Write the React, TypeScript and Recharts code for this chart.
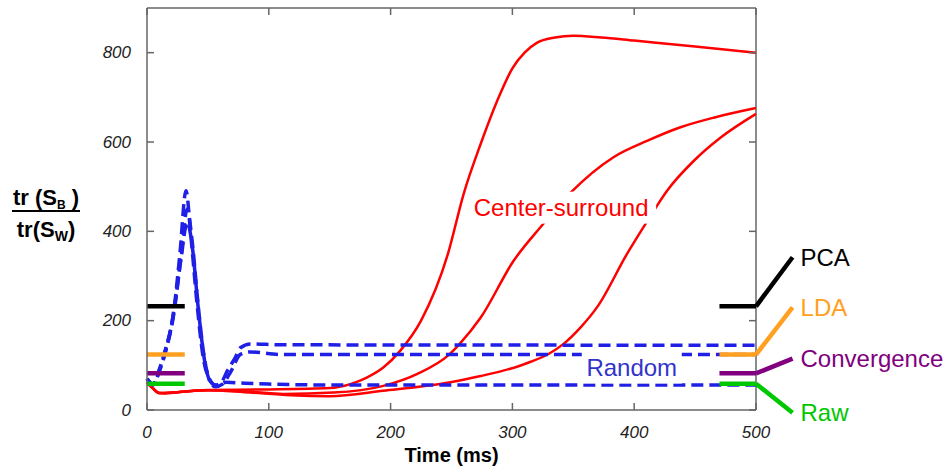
import { LineChart, Line, XAxis, YAxis, ReferenceLine, ReferenceDot } from "recharts";

const timeTicks = [0, 100, 200, 300, 400, 500];
const ratioTicks = [0, 200, 400, 600, 800];

// center-surround runs (red)
const centerFast = [
  { t: 0, v: 62 }, { t: 5, v: 48 }, { t: 10, v: 38 }, { t: 15, v: 37 }, { t: 25, v: 40 },
  { t: 50, v: 45 }, { t: 100, v: 46 }, { t: 150, v: 49 }, { t: 167, v: 58 }, { t: 180, v: 72 },
  { t: 194, v: 95 }, { t: 208, v: 133 }, { t: 225, v: 200 }, { t: 247, v: 349 }, { t: 260, v: 484 },
  { t: 274, v: 596 }, { t: 290, v: 708 }, { t: 300, v: 765 }, { t: 310, v: 800 }, { t: 320, v: 822 },
  { t: 335, v: 834 }, { t: 350, v: 838 }, { t: 373, v: 834 }, { t: 400, v: 827 }, { t: 450, v: 814 },
  { t: 500, v: 800 },
];
const centerMid = [
  { t: 0, v: 62 }, { t: 5, v: 48 }, { t: 10, v: 38 }, { t: 25, v: 40 }, { t: 50, v: 44 },
  { t: 80, v: 42 }, { t: 112, v: 36 }, { t: 153, v: 39 }, { t: 194, v: 54 }, { t: 222, v: 81 },
  { t: 248, v: 124 }, { t: 256, v: 146 }, { t: 274, v: 207 }, { t: 301, v: 334 }, { t: 323, v: 409 },
  { t: 348, v: 487 }, { t: 383, v: 566 }, { t: 411, v: 603 }, { t: 438, v: 633 }, { t: 466, v: 655 },
  { t: 500, v: 676 },
];
const centerSlow = [
  { t: 0, v: 62 }, { t: 5, v: 48 }, { t: 10, v: 38 }, { t: 25, v: 40 }, { t: 50, v: 44 },
  { t: 80, v: 40 }, { t: 118, v: 33 }, { t: 150, v: 31 }, { t: 194, v: 43 }, { t: 249, v: 62 },
  { t: 274, v: 76 }, { t: 291, v: 87 }, { t: 305, v: 98 }, { t: 315, v: 108 }, { t: 330, v: 126 },
  { t: 342, v: 148 }, { t: 356, v: 185 }, { t: 370, v: 232 }, { t: 394, v: 349 }, { t: 411, v: 424 },
  { t: 427, v: 491 }, { t: 449, v: 558 }, { t: 471, v: 610 }, { t: 500, v: 663 },
];

// random runs (blue, dashed)
const randomHigh = [
  { t: 0, v: 70 }, { t: 5, v: 58 }, { t: 10, v: 90 }, { t: 14, v: 125 }, { t: 22, v: 222 },
  { t: 27, v: 349 }, { t: 32, v: 491 }, { t: 36, v: 390 }, { t: 41, v: 240 }, { t: 46, v: 120 },
  { t: 52, v: 66 }, { t: 56, v: 56 }, { t: 61, v: 62 }, { t: 66, v: 88 }, { t: 72, v: 115 },
  { t: 77, v: 140 }, { t: 85, v: 148 }, { t: 110, v: 146 }, { t: 500, v: 145 },
];
const randomMid = [
  { t: 0, v: 70 }, { t: 5, v: 56 }, { t: 10, v: 85 }, { t: 15, v: 128 }, { t: 22, v: 215 },
  { t: 28, v: 340 }, { t: 33, v: 420 }, { t: 37, v: 370 }, { t: 42, v: 230 }, { t: 47, v: 115 },
  { t: 52, v: 62 }, { t: 56, v: 52 }, { t: 62, v: 58 }, { t: 68, v: 82 }, { t: 77, v: 125 },
  { t: 85, v: 130 }, { t: 110, v: 124 }, { t: 500, v: 124 },
];
const randomLow = [
  { t: 0, v: 70 }, { t: 5, v: 57 }, { t: 10, v: 88 }, { t: 15, v: 130 }, { t: 22, v: 220 },
  { t: 28, v: 345 }, { t: 33, v: 450 }, { t: 37, v: 380 }, { t: 42, v: 235 }, { t: 47, v: 118 },
  { t: 52, v: 64 }, { t: 57, v: 55 }, { t: 65, v: 62 }, { t: 80, v: 60 }, { t: 100, v: 58 },
  { t: 150, v: 56 }, { t: 500, v: 56 },
];

// reference levels for the other methods
const methods = ["PCA", "LDA", "Convergence", "Raw"];
const methodLevels = [232, 124, 82, 59];
const methodTagLevels = [342, 230, 115, -6];
const methodColors = ["#000000", "#ffa020", "#800080", "#00c800"];

const RED = "#ff0000";
const BLUE = "#1f1fe6";
const AXIS = "#666";

const PLOT_TOP = 8;
const PLOT_BOTTOM = 410;
const PLOT_LEFT = 147;
const PLOT_RIGHT = 756;

const TimeTick = (p: any) => (
  <g>
    <line x1={p.x} x2={p.x} y1={PLOT_BOTTOM} y2={PLOT_BOTTOM - 7} stroke={AXIS} strokeWidth={1.5} />
    <line x1={p.x} x2={p.x} y1={PLOT_TOP} y2={PLOT_TOP + 7} stroke={AXIS} strokeWidth={1.5} />
    <text x={p.x} y={PLOT_BOTTOM + 22} textAnchor="middle" dominantBaseline="central" fontSize={17} fontStyle="italic" fill="#222">
      {p.payload.value}
    </text>
  </g>
);

const RatioTick = (p: any) => (
  <g>
    <line x1={PLOT_LEFT} x2={PLOT_LEFT + 7} y1={p.y} y2={p.y} stroke={AXIS} strokeWidth={1.5} />
    <line x1={PLOT_RIGHT} x2={PLOT_RIGHT - 7} y1={p.y} y2={p.y} stroke={AXIS} strokeWidth={1.5} />
    <text x={PLOT_LEFT - 16} y={p.y} textAnchor="end" dominantBaseline="central" fontSize={17} fontStyle="italic" fill="#222">
      {p.payload.value}
    </text>
  </g>
);

const tag = (text: string, color: string, w: number) => (p: any) => (
  <g>
    <rect x={p.cx - w / 2} y={p.cy - 16} width={w} height={32} fill="#fff" />
    <text x={p.cx} y={p.cy} textAnchor="middle" dominantBaseline="central" fontSize={24} fill={color}>
      {text}
    </text>
  </g>
);

const sideTag = (text: string, color: string) => (p: any) => (
  <text x={p.cx + 8} y={p.cy} dominantBaseline="central" fontSize={24} fill={color}>
    {text}
  </text>
);

const RatioLabel = (props: any) => {
  const vb = props.viewBox;
  const cx = vb.x + 46;
  const cy = 211;
  return (
    <g fontWeight="bold" fill="#000">
      <text x={cx} y={cy - 6} textAnchor="middle" fontSize={22}>
        <tspan>tr (S</tspan>
        <tspan fontSize={12} dy={4}>B</tspan>
        <tspan dy={-4}> )</tspan>
      </text>
      <line x1={12} x2={80} y1={cy} y2={cy} stroke="#000" strokeWidth={2} />
      <text x={cx} y={cy + 26} textAnchor="middle" fontSize={22}>
        <tspan>tr(S</tspan>
        <tspan fontSize={14} dy={4}>W</tspan>
        <tspan dy={-4}>)</tspan>
      </text>
    </g>
  );
};

const TimeLabel = (props: any) => {
  const vb = props.viewBox;
  return (
    <text x={vb.x + vb.width / 2} y={462} textAnchor="middle" fontSize={20} fontWeight="bold" fill="#000">
      Time (ms)
    </text>
  );
};

export default function App() {
  return (
    <div style={{ position: "absolute", left: 0, top: 0, fontFamily: "'Liberation Sans', Arial, sans-serif" }}>
      <LineChart width={952} height={470} margin={{ top: PLOT_TOP, right: 952 - PLOT_RIGHT, bottom: 0, left: 0 }}>
        <XAxis
          dataKey="t"
          type="number"
          domain={[0, 500]}
          ticks={timeTicks}
          interval={0}
          tick={<TimeTick />}
          tickLine={false}
          height={470 - PLOT_BOTTOM}
          stroke={AXIS}
          strokeWidth={1.5}
          label={<TimeLabel />}
        />
        <YAxis
          type="number"
          domain={[0, 900]}
          ticks={ratioTicks}
          interval={0}
          tick={<RatioTick />}
          tickLine={false}
          width={PLOT_LEFT}
          stroke={AXIS}
          strokeWidth={1.5}
          label={<RatioLabel />}
        />
        <ReferenceLine x={500} stroke={AXIS} strokeWidth={1.5} />
        <ReferenceLine y={900} stroke={AXIS} strokeWidth={1.5} />

        {[centerFast, centerMid, centerSlow].map((d, i) => (
          <Line key={"c" + i} data={d} dataKey="v" type="monotone" stroke={RED} strokeWidth={2.5} dot={false} isAnimationActive={false} />
        ))}
        {[randomHigh, randomMid, randomLow].map((d, i) => (
          <Line key={"r" + i} data={d} dataKey="v" type="monotone" stroke={BLUE} strokeWidth={3.5} strokeDasharray="12 6" dot={false} isAnimationActive={false} />
        ))}

        {methods.map((m, i) => (
          <Line key={"l" + m} data={[{ t: 0, v: methodLevels[i] }, { t: 31, v: methodLevels[i] }]} dataKey="v" type="linear" stroke={methodColors[i]} strokeWidth={4.5} dot={false} isAnimationActive={false} />
        ))}
        {methods.map((m, i) => (
          <Line key={"rr" + m} data={[{ t: 470, v: methodLevels[i] }, { t: 500, v: methodLevels[i] }]} dataKey="v" type="linear" stroke={methodColors[i]} strokeWidth={4.5} dot={false} isAnimationActive={false} />
        ))}
        {methods.map((m, i) => (
          <ReferenceLine
            key={"d" + m}
            segment={[{ x: 500, y: methodLevels[i] }, { x: 530, y: methodTagLevels[i] }]}
            stroke={methodColors[i]}
            strokeWidth={4.5}
            ifOverflow="visible"
          />
        ))}
        {methods.map((m, i) => (
          <ReferenceDot key={"t" + m} x={530} y={methodTagLevels[i]} r={0} ifOverflow="visible" shape={sideTag(m, methodColors[i])} />
        ))}

        <ReferenceDot x={340} y={453} r={0} ifOverflow="visible" shape={tag("Center-surround", RED, 190)} />
        <ReferenceDot x={398} y={95} r={0} ifOverflow="visible" shape={tag("Random", "#3333cc", 100)} />
      </LineChart>
    </div>
  );
}
